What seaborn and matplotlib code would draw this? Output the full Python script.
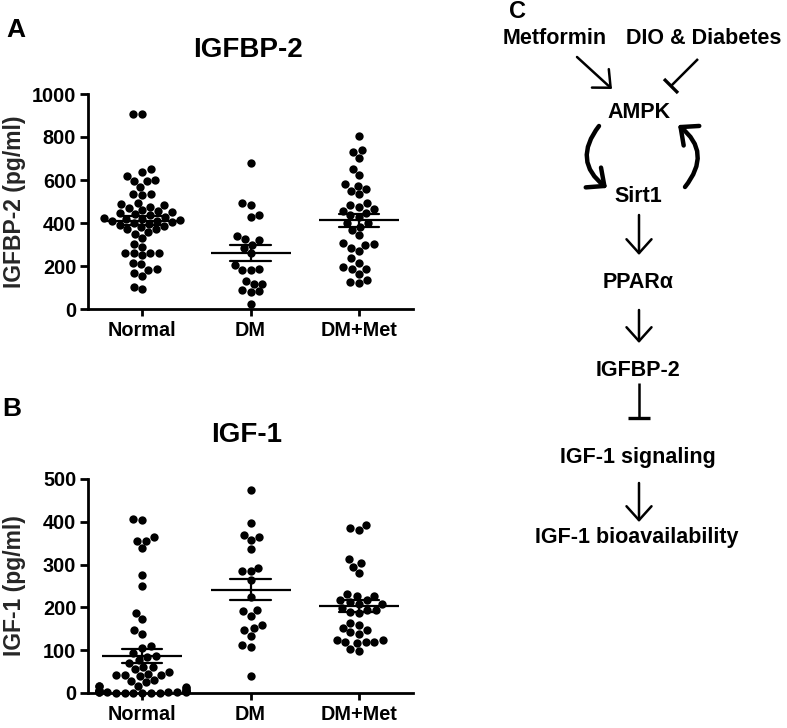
import numpy as np
import pandas as pd
import seaborn as sns
import matplotlib
matplotlib.use("Agg")
import matplotlib.pyplot as plt
from matplotlib.patches import FancyArrowPatch

# ---------------- data ----------------
groups = ["Normal", "DM", "DM+Met"]

igfbp2_normal = [905, 905, 649, 638, 618, 600, 595, 595, 568, 537, 534, 530, 494, 488,
                 483, 475, 470, 460, 455, 450, 445, 440, 435, 430, 425, 420, 418, 415,
                 410, 408, 405, 400, 395, 390, 385, 380, 370, 370, 356, 351, 328, 304,
                 289, 262, 262, 262, 261, 250, 214, 208, 188, 183, 168, 154, 102, 92]
igfbp2_dm = [677, 495, 483, 439, 429, 340, 325, 320, 300, 286, 261, 203, 185, 180, 180,
             130, 118, 115, 87, 82, 79, 25]
igfbp2_dmmet = [806, 740, 732, 704, 650, 622, 580, 574, 557, 550, 535, 494, 484, 476, 464,
                457, 448, 437, 429, 400, 400, 383, 367, 344, 305, 302, 298, 285, 270, 236,
                215, 197, 185, 185, 163, 135, 127, 122]

igf1_normal = [407, 405, 364, 356, 354, 339, 275, 249, 187, 174, 148, 139, 109, 105, 93,
               86, 84, 78, 70, 61, 61, 55, 50, 45, 43, 43, 43, 39, 30, 28, 25, 17, 16, 16,
               13, 12, 8, 6, 5, 5, 4, 4, 3, 3, 3, 2, 2, 2, 1, 1, 1, 0, 0, 0]
igf1_dm = [475, 397, 370, 364, 358, 336, 292, 284, 284, 263, 224, 193, 191, 181, 160, 152,
           148, 134, 113, 107, 39]
igf1_dmmet = [392, 386, 381, 312, 303, 294, 280, 231, 227, 227, 217, 217, 213, 208, 208,
              198, 194, 194, 190, 186, 163, 160, 153, 147, 143, 138, 125, 124, 120, 118,
              118, 116, 102, 97]

pathway_labels = ["Metformin", "DIO & Diabetes", "AMPK", "Sirt1", "PPARα", "IGFBP-2",
                  "IGF-1 signaling", "IGF-1 bioavailability"]

# ---------------- style ----------------
sns.set_theme(style="ticks")
plt.rcParams['font.family'] = ['Liberation Sans', 'DejaVu Sans']
plt.rcParams['font.weight'] = 'bold'
plt.rcParams['axes.labelweight'] = 'bold'
plt.rcParams['axes.titleweight'] = 'bold'

W, H = 787, 728
fig = plt.figure(figsize=(W / 100, H / 100), dpi=100)


def px_axes(x0, y0, x1, y1):
    return fig.add_axes([x0 / W, 1 - y1 / H, (x1 - x0) / W, (y1 - y0) / H])


def make_df(lists):
    return pd.DataFrame({
        "group": np.repeat(groups, [len(l) for l in lists]),
        "value": np.concatenate([np.asarray(l, float) for l in lists]),
    })


def panel(ax, df, ymax, step, ylabel):
    sns.swarmplot(data=df, x="group", y="value", order=groups, color="black",
                  size=6.0, ax=ax, zorder=2, linewidth=0)
    sns.pointplot(data=df, x="group", y="value", order=groups, color="black",
                  errorbar="se", capsize=0.37, marker="_", markersize=58,
                  markeredgewidth=1.6, linestyle="none",
                  err_kws={"linewidth": 1.6}, ax=ax, zorder=3)
    for c in ax.collections:
        c.set_clip_on(False)
    ax.set_xlim(-0.5, 2.5)
    ax.set_ylim(0, ymax)
    ax.set_yticks(np.arange(0, ymax + 1, step))
    ax.set_xlabel("")
    ax.set_ylabel(ylabel, fontsize=16.5, fontweight="bold")
    ax.yaxis.set_label_coords(-0.19, 0.5)
    sns.despine(ax=ax)
    for s in ("left", "bottom"):
        ax.spines[s].set_linewidth(2)
        ax.spines[s].set_color("black")
    ax.tick_params(axis="both", direction="out", length=5, width=2,
                   labelsize=14.3, colors="black")
    ax.tick_params(axis="y", length=6, pad=2.5)
    for lab in ax.get_xticklabels() + ax.get_yticklabels():
        lab.set_fontweight("bold")


axA = px_axes(88, 94, 413, 309)
panel(axA, make_df([igfbp2_normal, igfbp2_dm, igfbp2_dmmet]), 1000, 200,
      "IGFBP-2 (pg/ml)")
axB = px_axes(88, 479, 413, 693)
panel(axB, make_df([igf1_normal, igf1_dm, igf1_dmmet]), 500, 100,
      "IGF-1 (pg/ml)")


def ftext(x, y, s, size, **kw):
    fig.text(x / W, 1 - y / H, s, fontsize=size, fontweight="bold",
             ha="center", va="center", color="black", **kw)


ftext(248, 50, "IGFBP-2", 20)
ftext(247, 435, "IGF-1", 20)
ftext(16, 30, "A", 19)
ftext(12, 409, "B", 19)
ftext(517, 12, "C", 17)

# ---------------- pathway diagram ----------------
dg = fig.add_axes([0, 0, 1, 1])
dg.set_xlim(0, W)
dg.set_ylim(H, 0)
dg.axis("off")

pos = [(555, 39), (704, 39), (639, 112), (638, 197), (638, 283), (638, 371),
       (638, 457), (637, 537)]
for (x, y), s in zip(pos, pathway_labels):
    dg.text(x, y, s, fontsize=15.5, fontweight="bold", ha="center", va="center",
            color="black")


def arrow(p0, p1, lw=1.8, rad=0.0, hl=0.5, hw=0.45):
    a = FancyArrowPatch(p0, p1, arrowstyle=f"->,head_length={hl},head_width={hw}",
                        connectionstyle=f"arc3,rad={rad}", mutation_scale=20,
                        linewidth=lw, color="black", shrinkA=0, shrinkB=0)
    dg.add_patch(a)


def inhibit(p0, p1, bar0, bar1, lw=1.8):
    dg.plot([p0[0], p1[0]], [p0[1], p1[1]], color="black", lw=lw,
            solid_capstyle="butt")
    dg.plot([bar0[0], bar1[0]], [bar0[1], bar1[1]], color="black", lw=lw + 0.6,
            solid_capstyle="butt")


arrow((577, 57), (612, 89))
inhibit((698, 59), (671, 86), (664, 79), (678, 93))
arrow((599, 126), (607, 188), lw=3.2, rad=0.5, hl=0.5, hw=0.45)
arrow((685, 187), (678, 125), lw=3.2, rad=0.5, hl=0.5, hw=0.45)
arrow((639, 215), (639, 255))
arrow((639, 310), (639, 343))
inhibit((639, 383), (639, 418), (628, 418), (650, 418))
arrow((639, 483), (639, 522))

fig.savefig("out.png", dpi=100)
